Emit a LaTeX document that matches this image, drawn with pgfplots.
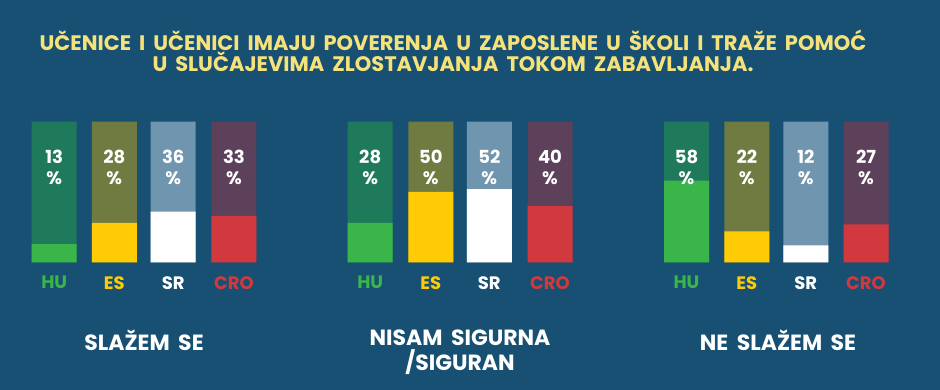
\documentclass[border=0pt]{standalone}
\usepackage{fontspec}
\setmainfont{Poppins}
\usepackage{pgfplots}
\pgfplotsset{compat=1.18}
\definecolor{bg}{HTML}{175072}
\definecolor{hudim}{HTML}{1E7A5A}
\definecolor{hu}{HTML}{3AB54A}
\definecolor{esdim}{HTML}{6F7B40}
\definecolor{es}{HTML}{FFCB05}
\definecolor{srdim}{HTML}{7095AE}
\definecolor{sr}{HTML}{FFFFFF}
\definecolor{crodim}{HTML}{5D4059}
\definecolor{cro}{HTML}{D1393F}
\definecolor{ttl}{HTML}{F6E27A}
\newcommand\grpsp{\spaceskip=8.5bp plus 1bp\relax}
\newcommand\ttlsp{\spaceskip=8bp plus 1bp\relax}
\begin{document}
\begin{tikzpicture}
\fill[bg] (0,0) rectangle (940bp,390bp);
\begin{axis}[
  at={(0,0)}, anchor=south west,
  width=940bp, height=390bp, scale only axis,
  xmin=0, xmax=940, ymin=-90.83, ymax=186.56,
  hide axis, clip=false,
  bar width=45, bar shift=0pt,
  every bar/.style={draw=none},
]
% backgrounds (100 %)
\addplot[ybar, fill=hudim, draw=none] coordinates {(54.2,100) (370.2,100) (686.5,100)};
\addplot[ybar, fill=esdim, draw=none] coordinates {(114.3,100) (430.8,100) (746.8,100)};
\addplot[ybar, fill=srdim, draw=none] coordinates {(173.2,100) (489.3,100) (805.8,100)};
\addplot[ybar, fill=crodim, draw=none] coordinates {(233.9,100) (550.0,100) (866.0,100)};
% values
\addplot[ybar, fill=hu, draw=none] coordinates {(54.2,13) (370.2,28) (686.5,58)};
\addplot[ybar, fill=es, draw=none] coordinates {(114.3,28) (430.8,50) (746.8,22)};
\addplot[ybar, fill=sr, draw=none] coordinates {(173.2,36) (489.3,52) (805.8,12)};
\addplot[ybar, fill=cro, draw=none] coordinates {(233.9,33) (550.0,40) (866.0,27)};

\tikzset{pct/.style={text=white, font=\fontsize{18bp}{21bp}\selectfont\bfseries, align=center, inner sep=0pt},
         cty/.style={font=\fontsize{18bp}{20bp}\selectfont\bfseries, inner sep=0pt},
         grp/.style={text=white, font=\fontsize{22bp}{25bp}\selectfont\bfseries, align=center, inner sep=0pt}}
% percentage labels
\node[pct] at (axis cs:54.2,67.4) {13\\\%};
\node[pct] at (axis cs:114.3,67.4) {28\\\%};
\node[pct] at (axis cs:173.2,67.4) {36\\\%};
\node[pct] at (axis cs:233.9,67.4) {33\\\%};
\node[pct] at (axis cs:370.2,67.4) {28\\\%};
\node[pct] at (axis cs:430.8,67.4) {50\\\%};
\node[pct] at (axis cs:489.3,67.4) {52\\\%};
\node[pct] at (axis cs:550.0,67.4) {40\\\%};
\node[pct] at (axis cs:686.5,67.4) {58\\\%};
\node[pct] at (axis cs:746.8,67.4) {22\\\%};
\node[pct] at (axis cs:805.8,67.4) {12\\\%};
\node[pct] at (axis cs:866.0,67.4) {27\\\%};
% country labels
\node[cty, text=hu]  at (axis cs:54.2,-14.5) {HU};
\node[cty, text=es]  at (axis cs:114.3,-14.5) {ES};
\node[cty, text=sr]  at (axis cs:173.2,-14.5) {SR};
\node[cty, text=cro] at (axis cs:233.9,-14.5) {CRO};
\node[cty, text=hu]  at (axis cs:370.2,-14.5) {HU};
\node[cty, text=es]  at (axis cs:430.8,-14.5) {ES};
\node[cty, text=sr]  at (axis cs:489.3,-14.5) {SR};
\node[cty, text=cro] at (axis cs:550.0,-14.5) {CRO};
\node[cty, text=hu]  at (axis cs:686.5,-14.5) {HU};
\node[cty, text=es]  at (axis cs:746.8,-14.5) {ES};
\node[cty, text=sr]  at (axis cs:805.8,-14.5) {SR};
\node[cty, text=cro] at (axis cs:866.0,-14.5) {CRO};
% group labels
\node[grp] at (axis cs:144,-55.3) {\grpsp SLAŽEM SE};
\node[grp] at (axis cs:460,-64.2) {\grpsp NISAM SIGURNA\\/SIGURAN};
\node[grp] at (axis cs:778,-55.3) {\grpsp NE SLAŽEM SE};
% title
\node[text=ttl, font=\fontsize{21bp}{21.5bp}\selectfont\bfseries, align=center, inner sep=0pt]
  at (axis cs:453,150.5) {\ttlsp UČENICE I UČENICI IMAJU POVERENJA U ZAPOSLENE U ŠKOLI I TRAŽE POMOĆ\\\ttlsp U SLUČAJEVIMA ZLOSTAVJANJA TOKOM ZABAVLJANJA.};
\end{axis}
\end{tikzpicture}
\end{document}
